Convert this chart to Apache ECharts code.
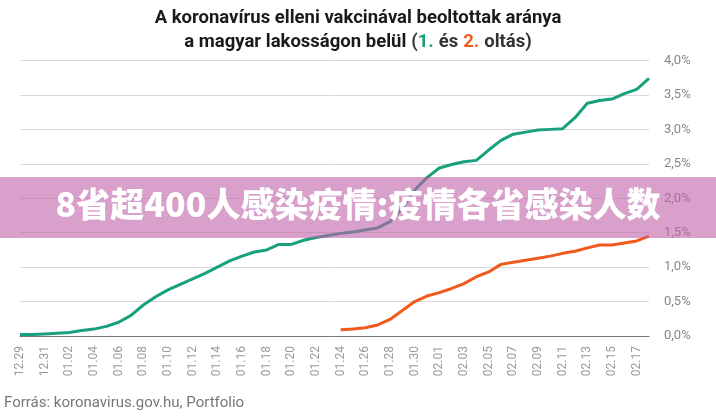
<!DOCTYPE html>
<html>
<head>
<meta charset="utf-8">
<script src="https://cdn.jsdelivr.net/npm/echarts@6/dist/echarts.min.js"></script>
<style>
  html, body { margin: 0; padding: 0; background: #fff; }
  #chart-container { width: 716px; height: 417px; }
</style>
</head>
<body>
<div id="chart-container"></div>
<script>
var dom = document.getElementById("chart-container");
var myChart = echarts.init(dom, null, { renderer: "canvas" });

// dates 12.29 -> 02.18
const dates = [
  "12.29", "12.30", "12.31", "01.01", "01.02", "01.03", "01.04", "01.05", "01.06", "01.07",
  "01.08", "01.09", "01.10", "01.11", "01.12", "01.13", "01.14", "01.15", "01.16", "01.17",
  "01.18", "01.19", "01.20", "01.21", "01.22", "01.23", "01.24", "01.25", "01.26", "01.27",
  "01.28", "01.29", "01.30", "01.31", "02.01", "02.02", "02.03", "02.04", "02.05", "02.06",
  "02.07", "02.08", "02.09", "02.10", "02.11", "02.12", "02.13", "02.14", "02.15", "02.16",
  "02.17", "02.18"
];

// 1. oltás (%)
const firstDose = [
  0.02, 0.02, 0.03, 0.04, 0.05, 0.08, 0.10, 0.14, 0.20, 0.30,
  0.45, 0.57, 0.67, 0.75, 0.83, 0.91, 1.00, 1.09, 1.16, 1.22,
  1.25, 1.33, 1.33, 1.39, 1.43, 1.46, 1.49, 1.51, 1.54, 1.57,
  1.66, 1.86, 2.12, 2.30, 2.44, 2.49, 2.53, 2.55, 2.70, 2.84,
  2.93, 2.96, 2.99, 3.00, 3.01, 3.17, 3.38, 3.42, 3.44, 3.52,
  3.58, 3.74
];

// 2. oltás (%), starts 01.24
const secondDose = [
  null, null, null, null, null, null, null, null, null, null,
  null, null, null, null, null, null, null, null, null, null,
  null, null, null, null, null, null, 0.09, 0.10, 0.12, 0.16,
  0.24, 0.37, 0.50, 0.58, 0.63, 0.69, 0.76, 0.86, 0.93, 1.04,
  1.07, 1.10, 1.13, 1.16, 1.20, 1.23, 1.28, 1.32, 1.32, 1.35,
  1.38, 1.45
];

const yTicks = [0, 0.5, 1, 1.5, 2, 2.5, 3, 3.5, 4];

const green = "#17a07c";
const orange = "#f25a1c";

var option = {
  animation: false,
  title: {
    left: "center",
    top: 1,
    text: "{b|A koronavírus elleni vakcinával beoltottak aránya}\n{b|a magyar lakosságon belül} {n|(}{g|1.} {n|és} {o|2.} {n|oltás)}",
    textStyle: {
      rich: {
        b: { fontFamily: "Roboto", fontWeight: "bold", fontSize: 18.5, color: "#1a1a1a", lineHeight: 24 },
        n: { fontFamily: "Roboto", fontSize: 18.5, color: "#333", lineHeight: 24 },
        g: { fontFamily: "Roboto", fontSize: 18.5, color: green, lineHeight: 24 },
        o: { fontFamily: "Roboto", fontSize: 18.5, color: orange, lineHeight: 24 }
      }
    }
  },
  grid: { left: 20, right: 67, top: 60.5, bottom: 81 },
  xAxis: {
    type: "category",
    data: dates,
    boundaryGap: false,
    axisLine: { lineStyle: { color: "#777", width: 1 } },
    axisTick: { show: false },
    axisLabel: {
      rotate: 90,
      interval: 1,
      margin: 10,
      color: "#999",
      fontFamily: "Roboto",
      fontSize: 12
    }
  },
  yAxis: {
    type: "value",
    position: "right",
    min: yTicks[0],
    max: yTicks[yTicks.length - 1],
    interval: 0.5,
    axisLine: { show: false },
    axisTick: { show: false },
    splitLine: { lineStyle: { color: "#d9d9d9" } },
    axisLabel: {
      margin: 15,
      color: "#888",
      fontFamily: "Roboto",
      fontSize: 13,
      formatter: function (v) { return v.toFixed(1).replace(".", ",") + "%"; }
    }
  },
  series: [
    {
      name: "1. oltás",
      type: "line",
      data: firstDose,
      showSymbol: false,
      lineStyle: { color: green, width: 3 },
      itemStyle: { color: green },
      z: 3
    },
    {
      name: "2. oltás",
      type: "line",
      data: secondDose,
      showSymbol: false,
      lineStyle: { color: orange, width: 3 },
      itemStyle: { color: orange },
      z: 3
    }
  ],
  graphic: [
    {
      type: "text",
      left: 4,
      top: 396,
      style: {
        text: "Forrás: koronavirus.gov.hu, Portfolio",
        fill: "#777",
        font: "15px Roboto"
      }
    },
    {
      type: "rect",
      shape: { x: 0, y: 177, width: 716, height: 61 },
      style: { fill: "rgba(192,97,170,0.6)" },
      z: 100
    },
    {
      type: "text",
      left: "center",
      top: 187,
      style: {
        text: "8省超400人感染疫情:疫情各省感染人数",
        fill: "#fff",
        font: "900 34px 'Noto Sans CJK SC'"
      },
      z: 101
    }
  ]
};

if (option && typeof option === "object") {
  myChart.setOption(option);
}

window.addEventListener("resize", myChart.resize);
</script>
</body>
</html>
